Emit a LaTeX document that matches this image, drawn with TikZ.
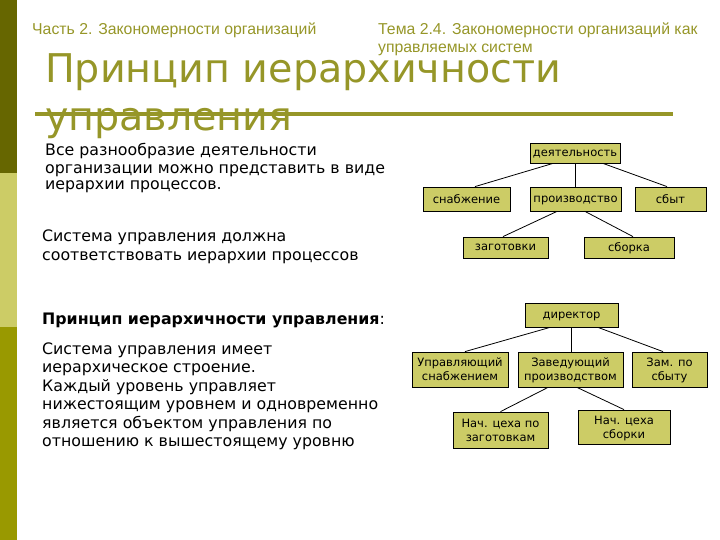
\documentclass[tikz,border=0pt]{standalone}
\usepackage{fontspec}
\setmainfont{DejaVu Sans}
\newfontfamily\headfont{Liberation Sans}
\definecolor{bardark}{RGB}{102,102,0}
\definecolor{barlight}{RGB}{204,204,102}
\definecolor{barmid}{RGB}{153,153,0}
\definecolor{titleolive}{RGB}{150,150,40}
\definecolor{unitfill}{RGB}{204,204,102}

\begin{document}
\begin{tikzpicture}[x=1pt,y=-1pt,
    unit/.style={draw=black,fill=unitfill,line width=0.8pt,align=center,
      inner sep=1pt,text depth=0pt,font=\fontsize{11.5}{14}\selectfont},
    link/.style={draw=black,line width=0.8pt},
    body/.style={anchor=base west,align=left,inner sep=0pt,
      font=\fontsize{15.8}{18.5}\selectfont}]
    \useasboundingbox (0,0) rectangle (720,540);
    % side bar
    \fill[bardark] (0,0) rectangle (17,173);
    \fill[barlight] (0,173) rectangle (17,327);
    \fill[barmid] (0,327) rectangle (17,540);
    % header (nodes placed at the baseline of their last line)
    \node[anchor=base west,inner sep=0pt,text=titleolive,
      font=\headfont\fontsize{15.8}{18}\selectfont] (part) at (32,35)
      {Часть 2. Закономерности организаций};
    \node[anchor=base west,inner sep=0pt,align=left,text=titleolive,
      font=\headfont\fontsize{15.8}{18}\selectfont] (topic) at (378,53)
      {Тема 2.4. Закономерности организаций как\\управляемых систем};
    % title
    \node[anchor=base west,inner sep=0pt,align=left,text=titleolive,
      font=\fontsize{39.6}{48}\selectfont] (title) at (45,131)
      {Принцип иерархичности\\управления};
    \draw[titleolive,line width=3.5pt] (35,114) -- (673,114);
    % left column
    \node[body,font=\fontsize{15.8}{17}\selectfont] (variety) at (45,190)
      {Все разнообразие деятельности\\организации можно представить в виде\\иерархии процессов.};
    \node[body] (must) at (42,260)
      {Система управления должна\\соответствовать иерархии процессов};
    \node[body] (principle) at (42,324)
      {\bfseries Принцип иерархичности управления\mdseries:};
    \node[body] (levels) at (42,446.5)
      {Система управления имеет\\иерархическое строение.\\Каждый уровень управляет\\нижестоящим уровнем и одновременно\\является  объектом управления по\\отношению к вышестоящему уровню};
    % process tree
    \node[unit,minimum width=90pt,minimum height=20pt] (act) at (575,153) {деятельность};
    \node[unit,minimum width=87pt,minimum height=24pt] (supply) at (466.5,199) {снабжение};
    \node[unit,minimum width=91pt,minimum height=24pt] (prod) at (575.5,199) {производство};
    \node[unit,minimum width=71pt,minimum height=24pt] (sales) at (670.5,199) {сбыт};
    \node[unit,minimum width=85pt,minimum height=21pt] (blank) at (505.5,247.5) {заготовки};
    \node[unit,minimum width=90pt,minimum height=21pt] (assembly) at (629,247.5) {сборка};
    \draw[link] ([xshift=-22pt]act.south) -- ([xshift=8.5pt]supply.north);
    \draw[link] (act.south) -- (act.south |- prod.north);
    \draw[link] ([xshift=28pt]act.south) -- ([xshift=-3.5pt]sales.north);
    \draw[link] ([xshift=-18.5pt]prod.south) -- ([xshift=-2.5pt]blank.north);
    \draw[link] ([xshift=9.5pt]prod.south) -- ([xshift=4pt]assembly.north);
    % management tree
    \node[unit,minimum width=93pt,minimum height=24pt] (director) at (571.5,315) {директор};
    \node[unit,minimum width=96pt,minimum height=35pt] (supplyhead) at (460,369.5) {Управляющий\\снабжением};
    \node[unit,minimum width=105pt,minimum height=35pt] (prodhead) at (570.5,369.5) {Заведующий\\производством};
    \node[unit,minimum width=75pt,minimum height=35pt] (salesdep) at (669.5,369.5) {Зам. по\\сбыту};
    \node[unit,minimum width=95pt,minimum height=36pt] (blankhead) at (500.5,430) {Нач. цеха по\\заготовкам};
    \node[unit,minimum width=92pt,minimum height=34pt] (assemblyhead) at (624,427) {Нач. цеха\\сборки};
    \draw[link] ([xshift=-21.5pt]director.south) -- ([xshift=5pt]supplyhead.north);
    \draw[link] (director.south) -- (director.south |- prodhead.north);
    \draw[link] ([xshift=26.5pt]director.south) -- ([xshift=-6.5pt]salesdep.north);
    \draw[link] ([xshift=-22.5pt]prodhead.south) -- (blankhead.north);
    \draw[link] ([xshift=6.5pt]prodhead.south) -- (assemblyhead.north);
  \end{tikzpicture}
\end{document}
